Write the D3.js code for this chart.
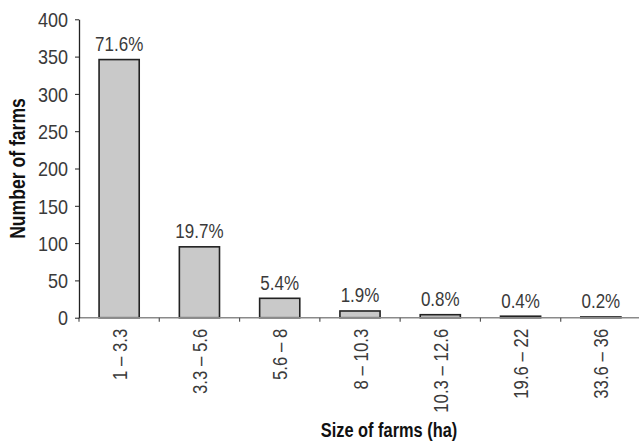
<!DOCTYPE html>
<html>
<head>
<meta charset="utf-8">
<script src="https://cdn.jsdelivr.net/npm/d3@7"></script>
<style>
  html, body { margin: 0; padding: 0; background: #fff; }
  svg { display: block; }
</style>
</head>
<body>
<svg id="chart" width="639" height="441"></svg>
<script>
// Farm size classes (ha) and number of farms in each class
const categories = ["1 – 3.3", "3.3 – 5.6", "5.6 – 8", "8 – 10.3", "10.3 – 12.6", "19.6 – 22", "33.6 – 36"];
const farmCounts = [346, 95, 26, 9, 4, 2, 1];
const shareLabels = ["71.6%", "19.7%", "5.4%", "1.9%", "0.8%", "0.4%", "0.2%"];
const yTicks = [0, 50, 100, 150, 200, 250, 300, 350, 400];

const svg = d3.select("#chart");
const plotLeft = 79, plotRight = 641, plotTop = 19.3, plotBottom = 317.7;
const font = '"Liberation Sans Narrow", "Arial Narrow", "Liberation Sans", Arial, sans-serif';

const x = d3.scaleBand()
  .domain(categories)
  .range([plotLeft, plotRight])
  .paddingInner(0.5)
  .paddingOuter(0.25);

const y = d3.scaleLinear()
  .domain([0, 400])
  .range([plotBottom, plotTop]);

// Bars
svg.append("g")
  .selectAll("rect")
  .data(categories)
  .join("rect")
  .attr("x", d => x(d))
  .attr("width", x.bandwidth())
  .attr("y", (d, i) => y(farmCounts[i]))
  .attr("height", (d, i) => y(0) - y(farmCounts[i]))
  .attr("fill", "#c9c9c9")
  .attr("stroke", "#222")
  .attr("stroke-width", 1.6);

// Percentage labels above bars (condensed by horizontal scaling)
svg.append("g")
  .selectAll("text")
  .data(categories)
  .join("text")
  .attr("transform", (d, i) =>
    `translate(${x(d) + x.bandwidth() / 2},${y(farmCounts[i]) - 8.5}) scale(0.81,1)`)
  .attr("text-anchor", "middle")
  .attr("font-family", font)
  .attr("font-size", 21)
  .attr("fill", "#3a3a3a")
  .text((d, i) => shareLabels[i]);

// X axis: baseline, boundary ticks and rotated class labels
const xAxis = svg.append("g").attr("transform", `translate(0,${plotBottom})`);
xAxis.append("line")
  .attr("x1", plotLeft).attr("x2", plotRight)
  .attr("stroke", "#8a8a8a").attr("stroke-width", 1.5);
const bounds = d3.range(categories.length + 1).map(i => plotLeft + i * x.step());
xAxis.selectAll("line.tick")
  .data(bounds)
  .join("line")
  .attr("class", "tick")
  .attr("x1", d => d).attr("x2", d => d)
  .attr("y1", 0).attr("y2", 4)
  .attr("stroke", "#555").attr("stroke-width", 1.2);
xAxis.selectAll("text")
  .data(categories)
  .join("text")
  .attr("transform", d => `translate(${x(d) + x.bandwidth() / 2 + 7.5},11) rotate(-90) scale(0.82,1)`)
  .attr("text-anchor", "end")
  .attr("font-family", font)
  .attr("font-size", 20.5)
  .attr("fill", "#3a3a3a")
  .text(d => d);

// Y axis
const yAxis = svg.append("g")
  .attr("transform", `translate(${plotLeft},0)`)
  .call(d3.axisLeft(y).tickValues(yTicks).tickSize(4).tickPadding(8.2).tickSizeOuter(0));
yAxis.select(".domain").attr("stroke", "#222").attr("stroke-width", 1.3);
yAxis.selectAll(".tick line").attr("stroke", "#222");
yAxis.selectAll(".tick text")
  .attr("font-family", font)
  .attr("font-size", 20)
  .attr("fill", "#3a3a3a")
  .attr("dy", "0.36em")
  .attr("transform", "scale(0.9,1)");

// Axis titles
svg.append("text")
  .attr("transform", `translate(25,${(plotTop + plotBottom) / 2}) rotate(-90) scale(0.8,1)`)
  .attr("text-anchor", "middle")
  .attr("font-family", font)
  .attr("font-weight", "bold")
  .attr("font-size", 22)
  .attr("fill", "#111")
  .text("Number of farms");

svg.append("text")
  .attr("transform", "translate(389,437) scale(0.78,1)")
  .attr("text-anchor", "middle")
  .attr("font-family", font)
  .attr("font-weight", "bold")
  .attr("font-size", 21)
  .attr("fill", "#111")
  .text("Size of farms (ha)");
</script>
</body>
</html>
